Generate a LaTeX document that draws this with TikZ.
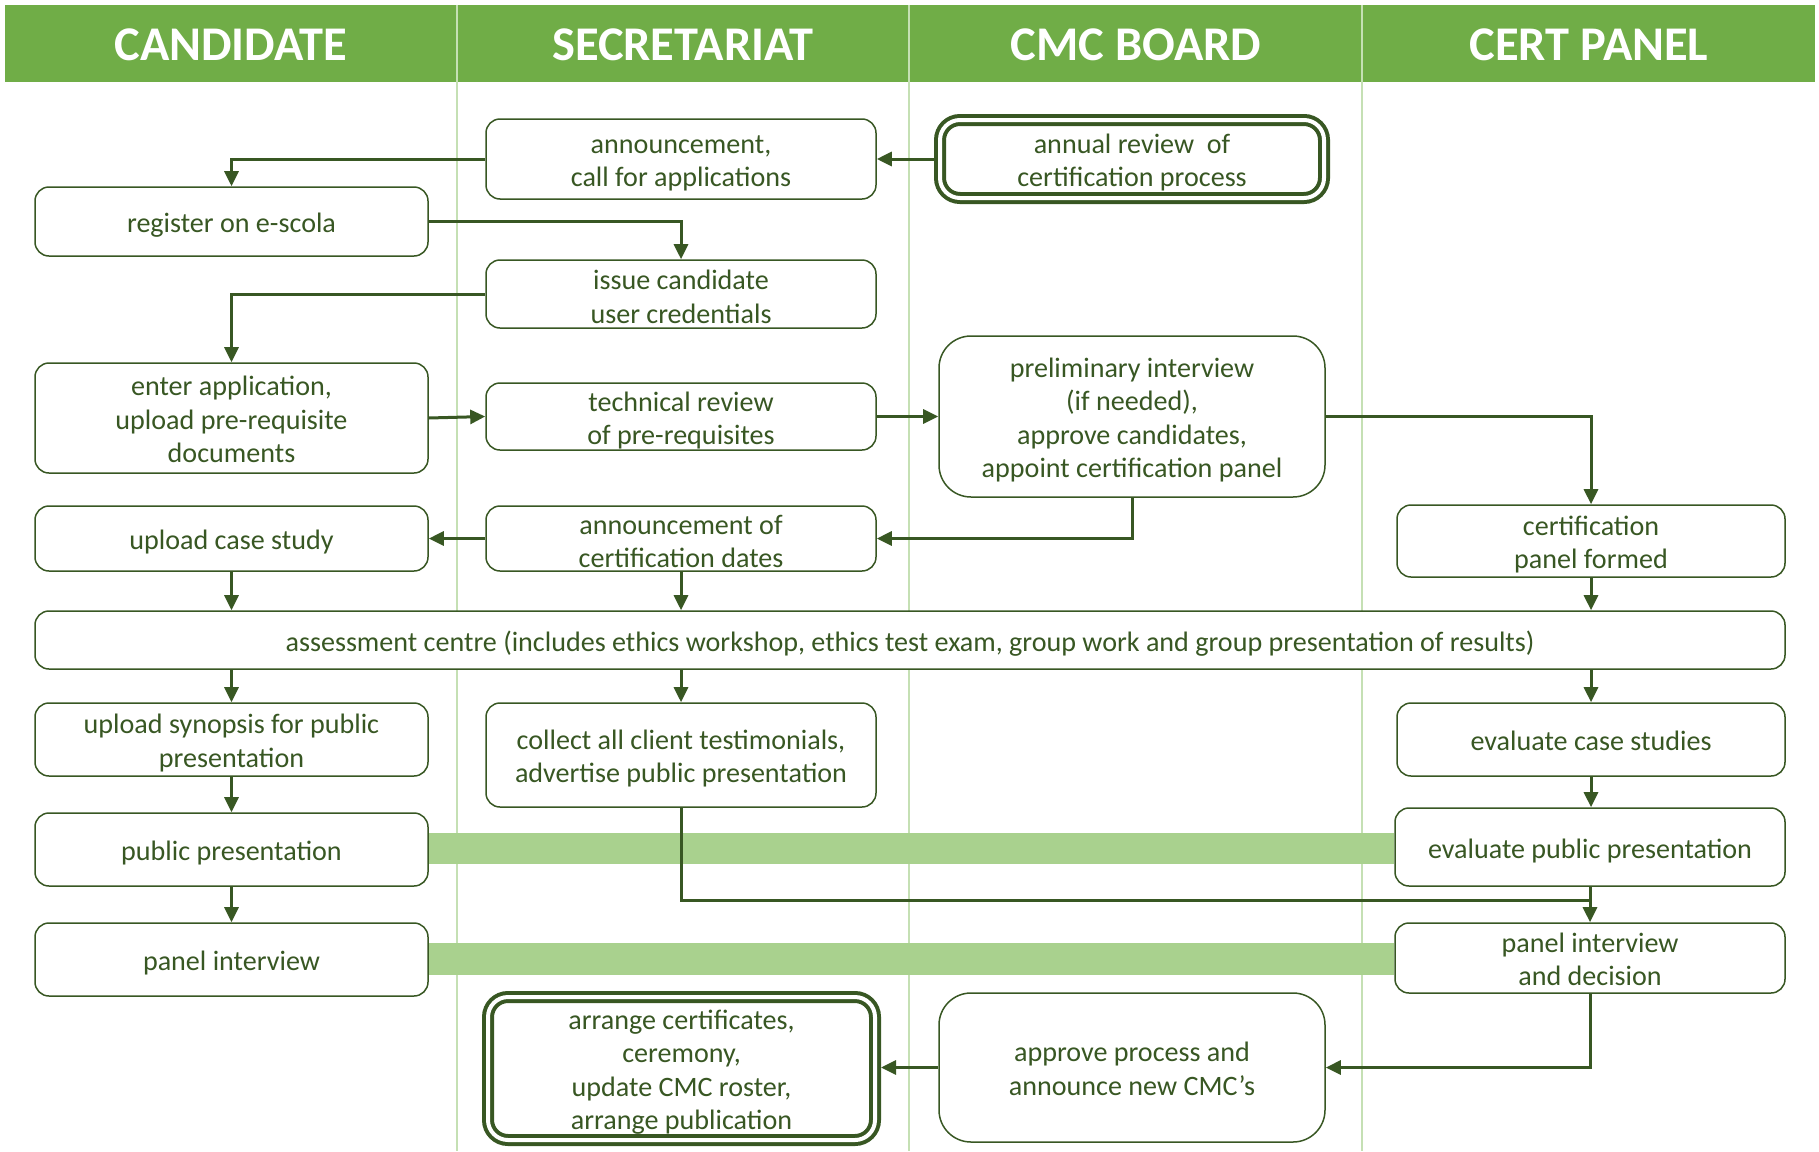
\documentclass[tikz,border=0pt]{standalone}
\usepackage{fontspec}
\setmainfont{Carlito}
\usetikzlibrary{arrows.meta}
\definecolor{hdr}{HTML}{70AD47}
\definecolor{lanec}{HTML}{C5E0B4}
\definecolor{bandc}{HTML}{A9D18E}
\definecolor{dark}{HTML}{385723}
\pgfdeclarelayer{background}
\pgfsetlayers{background,main}
\newcommand\tst{\rule{0pt}{14.5pt}}
\newcommand\bst{\rule[-3.5pt]{0pt}{0pt}}
\newcommand\tsta[1]{\rule{0pt}{#1pt}}
\newcommand\bsta[1]{\rule[-#1pt]{0pt}{0pt}}
\tikzset{
  box/.style={draw=dark, line width=0.75pt, fill=white, rounded corners=7pt,
    text=dark, align=center, inner sep=0pt, outer sep=0.4pt,
    font=\fontsize{14.05}{16.75}\selectfont},
  bigbox/.style={box, rounded corners=16pt},
  dblbox/.style={box, line width=2pt, double=white, double distance=2pt,
    outer sep=3pt, rounded corners=10pt},
  wh/.style 2 args={minimum width=#1*0.5pt, minimum height=#2*0.5pt},
  conn/.style={draw=dark, line width=1.5pt, -{Triangle[length=7.5pt,width=7pt]}},
  plainconn/.style={draw=dark, line width=1.5pt},
  lane/.style={draw=lanec, line width=1.2pt},
  band/.style={fill=bandc},
  htext/.style={text=white, font=\fontsize{24.2}{27}\selectfont\bfseries, inner sep=0pt}
}
\begin{document}
\begin{tikzpicture}[x=0.5pt,y=-0.5pt]
\useasboundingbox (0,0) rectangle (1819,1151);

% header
\begin{pgfonlayer}{background}
\fill[hdr] (5,5) rectangle (1815,82);
\draw[lane] (457,5) -- (457,1151);
\draw[lane] (909,5) -- (909,1151);
\draw[lane] (1362,5) -- (1362,1151);
\end{pgfonlayer}
\node[htext] (hc) at (231,45) {CANDIDATE};
\node[htext] (hs) at (683,45) {SECRETARIAT};
\node[htext] (hb) at (1136,45) {CMC BOARD};
\node[htext] (hp) at (1589,45) {CERT PANEL};

% boxes
\node[box, wh={390}{80}] (announce) at (681,159) {\tst announcement,\\call for applications\bst};
\node[dblbox, wh={384}{78}] (annual) at (1132,159) {\tst annual review\ \ of\\certification process\bst};
\node[box, wh={393}{69}] (register) at (231.5,221.5) {\tst register on e-scola\bst};
\node[box, wh={390}{68}] (issue) at (681,294) {\tsta{14.5}issue candidate\\user credentials\bsta{2}};
\node[box, wh={393}{110}] (enter) at (231.5,418) {\tst enter application,\\upload pre-requisite\\documents\bst};
\node[box, wh={390}{67}] (technical) at (681,416.5) {\tsta{14.2}technical review\\of pre-requisites\bsta{2.5}};
\node[bigbox, wh={386}{161}] (prelim) at (1132,416.5) {\tst preliminary interview\\(if needed),\\approve candidates,\\appoint certification panel\bst};
\node[box, wh={393}{65}] (uploadcase) at (231.5,538.5) {\tst upload case study\bst};
\node[box, wh={390}{65}] (dates) at (681,538.5) {\tsta{14}announcement of\\certification dates\bsta{1.5}};
\node[box, wh={388}{72}] (certpanel) at (1591,541) {\tst certification\\panel formed\bst};
\node[box, wh={1750}{58}] (assess) at (910,640) {\tst assessment centre (includes ethics workshop, ethics test exam, group work and group presentation of results)\bst};
\node[box, wh={393}{73}] (synopsis) at (231.5,739.5) {\tst upload synopsis for public\\presentation\bst};
\node[box, wh={390}{104}] (collect) at (681,755) {\tst collect all client testimonials,\\advertise public presentation\bst};
\node[box, wh={388}{73}] (evalcase) at (1591,739.5) {\tst evaluate case studies\bst};
\node[box, wh={393}{73}] (public) at (231.5,849.5) {\tst public presentation\bst};
\node[box, wh={390}{78}] (evalpublic) at (1590,847) {\tst evaluate public presentation\bst};
\node[box, wh={393}{73}] (panelint) at (231.5,959.5) {\tst panel interview\bst};
\node[box, wh={390}{70}] (paneldec) at (1590,958) {\tst panel interview\\and decision\bst};
\node[bigbox, wh={386}{149}] (approve) at (1132,1067.5) {\tst approve process and\\announce new CMC’s\bst};
\node[dblbox, wh={387}{143}] (arrange) at (681.5,1068.5) {\tst arrange certificates,\\ceremony,\\update CMC roster,\\arrange publication\bst};

% bands
\begin{pgfonlayer}{background}
\fill[band] (public.east |- 0,833) rectangle (evalpublic.west |- 0,864);
\fill[band] (panelint.east |- 0,943) rectangle (paneldec.west |- 0,975);
\end{pgfonlayer}

% connectors
\draw[conn] (annual.west) -- (announce.east);
\draw[conn] (announce.west) -| (register.north);
\draw[conn] (register.east) -| (issue.north);
\draw[conn] (issue.west) -| (enter.north);
\draw[conn] (enter.east) -- (technical.west);
\draw[conn] (technical.east) -- (prelim.west);
\draw[conn] (prelim.east) -| (certpanel.north);
\draw[conn] (prelim.south) |- (dates.east);
\draw[conn] (dates.west) -- (uploadcase.east);
\draw[conn] (uploadcase.south) -- (uploadcase.south |- assess.north);
\draw[conn] (dates.south) -- (dates.south |- assess.north);
\draw[conn] (certpanel.south) -- (certpanel.south |- assess.north);
\draw[conn] (assess.south -| synopsis.north) -- (synopsis.north);
\draw[conn] (assess.south -| collect.north) -- (collect.north);
\draw[conn] (assess.south -| evalcase.north) -- (evalcase.north);
\draw[conn] (synopsis.south) -- (public.north);
\draw[conn] (public.south) -- (panelint.north);
\draw[conn] (evalcase.south) -- (evalcase.south |- evalpublic.north);
\coordinate (jn) at (1590,900);
\draw[plainconn] (collect.south) |- (jn);
\draw[conn] (evalpublic.south) -- (paneldec.north);
\draw[conn] (paneldec.south) |- (approve.east);
\draw[conn] (approve.west) -- (approve.west -| arrange.east);
\end{tikzpicture}
\end{document}
